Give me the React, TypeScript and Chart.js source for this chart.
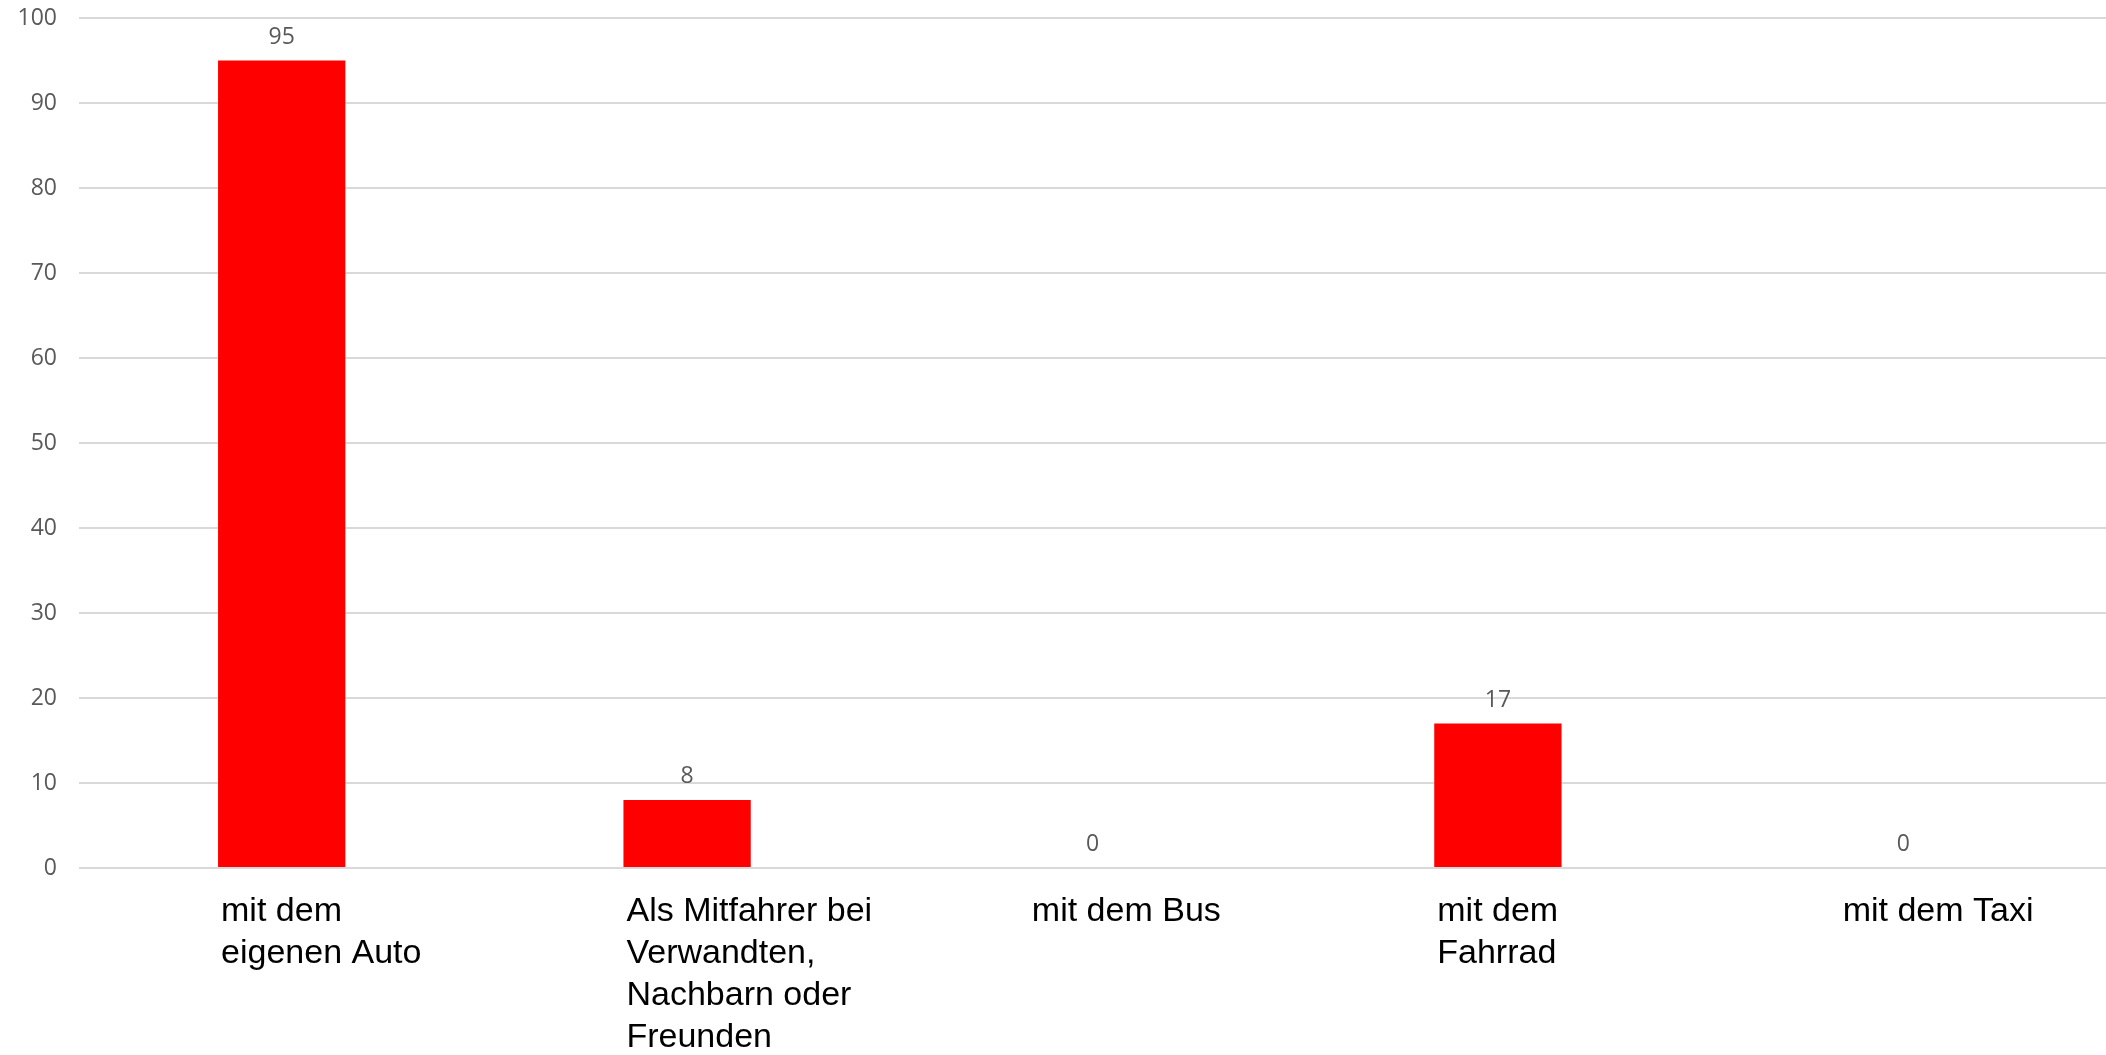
import React, { useEffect, useRef } from "react";
import { Chart, registerables } from "chart.js";

Chart.register(...registerables);

const categories: string[][] = [
  ["mit dem", "eigenen Auto"],
  ["Als Mitfahrer bei", "Verwandten,", "Nachbarn oder", "Freunden"],
  ["mit dem Bus"],
  ["mit dem", "Fahrrad"],
  ["mit dem Taxi"],
];
const values: number[] = [95, 8, 0, 17, 0];
const yMin = 0;
const yMax = 100;
const yStep = 10;

const W = 2106;
const H = 1055;

const labelsPlugin = {
  id: "customLabels",
  afterDatasetsDraw(chart: any) {
    const ctx = chart.ctx as CanvasRenderingContext2D;
    const meta = chart.getDatasetMeta(0);
    const area = chart.chartArea;
    ctx.save();
    ctx.font = '400 23px "Open Sans", sans-serif';
    ctx.fillStyle = "#595959";
    ctx.textAlign = "center";
    ctx.textBaseline = "alphabetic";
    meta.data.forEach((bar: any, i: number) => {
      ctx.fillText(String(values[i]), bar.x, bar.y - 17);
    });
    ctx.font = '34px "Liberation Sans", Arial, sans-serif';
    ctx.fillStyle = "#000000";
    ctx.textAlign = "left";
    ctx.textBaseline = "middle";
    meta.data.forEach((bar: any, i: number) => {
      const left = bar.x - bar.width / 2 + 3;
      categories[i].forEach((line, j) => {
        ctx.fillText(line, left, area.bottom + 44 + j * 42);
      });
    });
    ctx.restore();
  },
};

export default function App() {
  const ref = useRef<HTMLCanvasElement | null>(null);
  useEffect(() => {
    if (!ref.current) return;
    const chart = new Chart(ref.current, {
      type: "bar",
      data: {
        labels: categories.map((c) => c.join(" ")),
        datasets: [
          {
            data: values,
            backgroundColor: "#ff0000",
            borderWidth: 0,
            barPercentage: 0.314,
            categoryPercentage: 1,
          },
        ],
      },
      options: {
        responsive: false,
        animation: false,
        devicePixelRatio: 1,
        layout: { padding: { top: 18, bottom: 187, left: 0, right: 0 } },
        plugins: {
          legend: { display: false },
          tooltip: { enabled: false },
        },
        scales: {
          x: {
            display: false,
          },
          y: {
            min: yMin,
            max: yMax,
            ticks: {
              stepSize: yStep,
              padding: 22,
              color: "#595959",
              font: { family: '"Open Sans", sans-serif', size: 23 },
            },
            grid: { color: "#d9d9d9", lineWidth: 2, drawTicks: false },
            border: { display: false },
            afterFit: (scale: any) => {
              scale.width = 79;
              scale.paddingTop = 0;
              scale.paddingBottom = 0;
            },
          },
        },
      },
      plugins: [labelsPlugin],
    });
    return () => chart.destroy();
  }, []);
  return (
    <div style={{ position: "fixed", left: 0, top: 0, width: W, height: H, background: "#fff" }}>
      <canvas ref={ref} width={W} height={H} style={{ display: "block" }} />
    </div>
  );
}
